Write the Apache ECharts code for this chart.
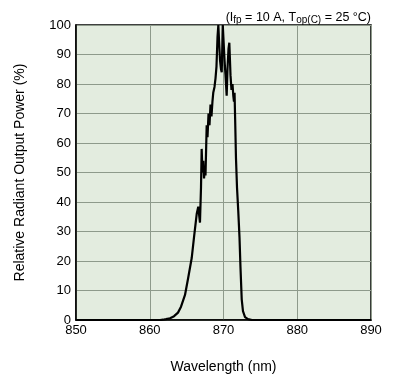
<!DOCTYPE html>
<html><head><meta charset="utf-8">
<script src="https://cdn.jsdelivr.net/npm/echarts@6/dist/echarts.min.js"></script>
<style>html,body{margin:0;padding:0;background:#fff}#c{width:396px;height:384px}</style>
</head><body><div id="c"></div>
<script>
var wavelength = [850,860,861.4,861.8,862.2,862.75,863.3,863.83,864.24,864.78,865.19,865.69,866.0,866.37,866.58,866.68,866.81,866.95,867.04,867.15,867.26,867.36,867.5,867.56,867.72,867.83,867.97,868.1,868.24,868.37,868.5,868.61,868.78,868.92,869.05,869.19,869.3,869.39,869.53,869.66,869.76,869.9,870.0,870.14,870.27,870.43,870.54,870.68,870.79,870.95,871.08,871.22,871.33,871.42,871.5,871.58,871.69,871.83,872.0,872.17,872.3,872.47,872.64,872.92,873.32,873.86,880,890];
var power = [0,0,0,0.1,0.3,0.6,1.3,2.5,4.5,8.5,14,21,28,36,38.4,36,33,45,58,50,54,48,52,49,66,62,70,66,73,69,74,77,79,82,86,96,100,95,88,85,84,100,100,88,83,76,85,92,94,83,78,80,76,74,77,68,55,45,37,28,18,7,3,1,0.3,0,0,0];
var xTicks = [850,860,870,880,890];
var yTicks = [0,10,20,30,40,50,60,70,80,90,100];

var chart = echarts.init(document.getElementById('c'), null, {renderer:'canvas'});
var font = 'Liberation Sans, Arial, sans-serif';
chart.setOption({
  animation:false,
  backgroundColor:'#ffffff',
  grid:{left:76,top:25,width:295,height:295,backgroundColor:'#e3ecdf',show:true,borderColor:'#000',borderWidth:1.5},
  title:{
    text:'{a|(I}{s|fp}{a| = 10 A, T}{s|op(C)}{a| = 25 °C)}',
    right:20, top:5,
    textStyle:{fontWeight:'normal',fontSize:12,fontFamily:font,rich:{
      a:{fontFamily:font,fontSize:12.5,fontWeight:'normal',color:'#000'},
      s:{fontFamily:font,fontSize:10,fontWeight:'normal',color:'#000',verticalAlign:'bottom',padding:[5,0,0,0]}
    }}
  },
  xAxis:{type:'value',min:850,max:890,interval:10,
    name:'Wavelength (nm)',nameLocation:'middle',nameGap:40,
    nameTextStyle:{fontFamily:font,fontSize:14,color:'#000'},
    axisLine:{show:true,lineStyle:{color:'#000',width:1.5}},
    axisTick:{show:false},
    axisLabel:{fontFamily:font,fontSize:13,color:'#000',margin:4},
    splitLine:{show:true,lineStyle:{color:'#8e9a8b',width:1}}
  },
  yAxis:{type:'value',min:0,max:100,interval:10,
    name:'Relative Radiant Output Power (%)',nameLocation:'middle',nameGap:49,
    nameTextStyle:{fontFamily:font,fontSize:14,color:'#000'},
    axisLine:{show:true,lineStyle:{color:'#000',width:1.5}},
    axisTick:{show:false},
    axisLabel:{fontFamily:font,fontSize:13,color:'#000',margin:5},
    splitLine:{show:true,lineStyle:{color:'#8e9a8b',width:1}}
  },
  series:[{type:'line',data:wavelength.map(function(w,i){return [w,power[i]];}),
    showSymbol:false,clip:true,lineStyle:{color:'#000',width:2.2},z:5}]
});
</script></body></html>
